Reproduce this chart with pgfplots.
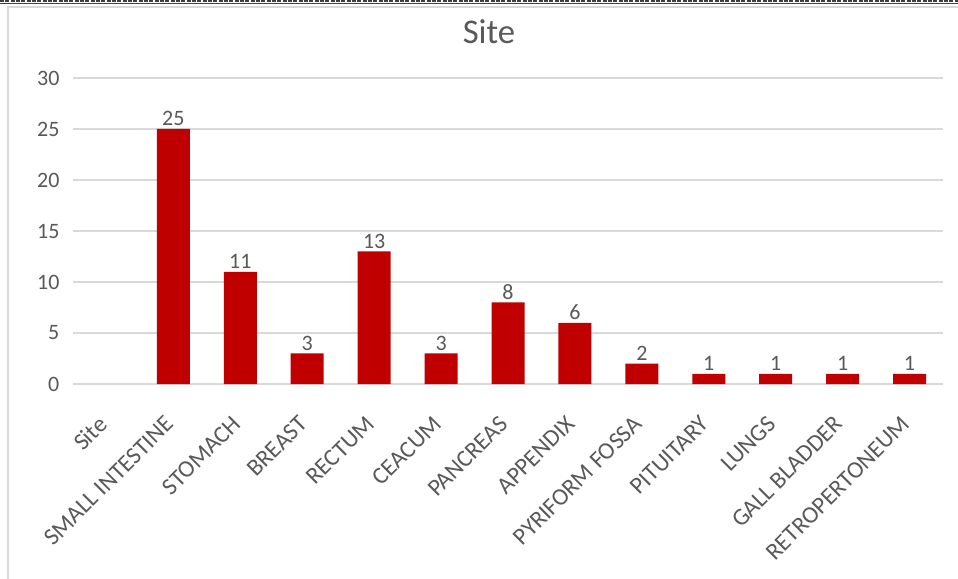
\documentclass[border=0pt]{standalone}
\usepackage{pgfplots}
\pgfplotsset{compat=1.18}
\usepackage{fontspec}
\setmainfont{Carlito}
\definecolor{barred}{HTML}{C00000}
\definecolor{txt}{HTML}{595959}
\definecolor{gridc}{HTML}{D9D9D9}
\begin{document}
\begin{tikzpicture}[x=0.75pt,y=0.75pt]
\path[use as bounding box] (0,0) rectangle (958,579);
\fill[white] (0,0) rectangle (958,579);
\draw[black!75, dashed, dash pattern=on 3pt off 1pt, line width=0.8pt] (0,578) -- (958,578);
\draw[black!75, line width=0.5pt] (0,576) -- (958,576);
\draw[gridc, line width=0.8pt] (8,0) -- (8,572) -- (958,572);
\node[text=txt, font=\fontsize{26}{30}\selectfont] at (489,547) {Site};
\begin{axis}[
  at={(54.75pt,146.25pt)}, anchor=south west, scale only axis,
  width=652.5pt, height=229.5pt,
  xmin=-0.5, xmax=12.5, ymin=0, ymax=30,
  ytick={0,5,...,30},
  xtick={0,...,12},
  xticklabels={Site,SMALL INTESTINE,STOMACH,BREAST,RECTUM,CEACUM,PANCREAS,APPENDIX,PYRIFORM FOSSA,PITUITARY,LUNGS,GALL BLADDER,RETROPERTONEUM},
  x tick label style={rotate=45, anchor=north east, inner sep=0pt, xshift=-21pt, yshift=-11pt, font=\fontsize{18}{20}\selectfont},
  yticklabel style={anchor=east, inner sep=0pt, xshift=-10pt, font=\fontsize{16.5}{20}\selectfont},
  tick label style={text=txt},
  /pgf/number format/assume math mode=true,
  major tick length=0pt,
  axis x line*=bottom, axis y line*=left,
  y axis line style={draw=none},
  x axis line style={draw=gridc, line width=1pt},
  ymajorgrids, grid style={draw=gridc, line width=1pt},
  ybar, bar width=24.75pt,
  nodes near coords,
  every node near coord/.append style={text=txt, font=\fontsize{16.5}{20}\selectfont, inner sep=2pt},
  clip=false,
]
\addplot[fill=barred, draw=none] coordinates {
(1,25) (2,11) (3,3) (4,13) (5,3) (6,8) (7,6) (8,2) (9,1) (10,1) (11,1) (12,1)
};
\end{axis}
\end{tikzpicture}
\end{document}
